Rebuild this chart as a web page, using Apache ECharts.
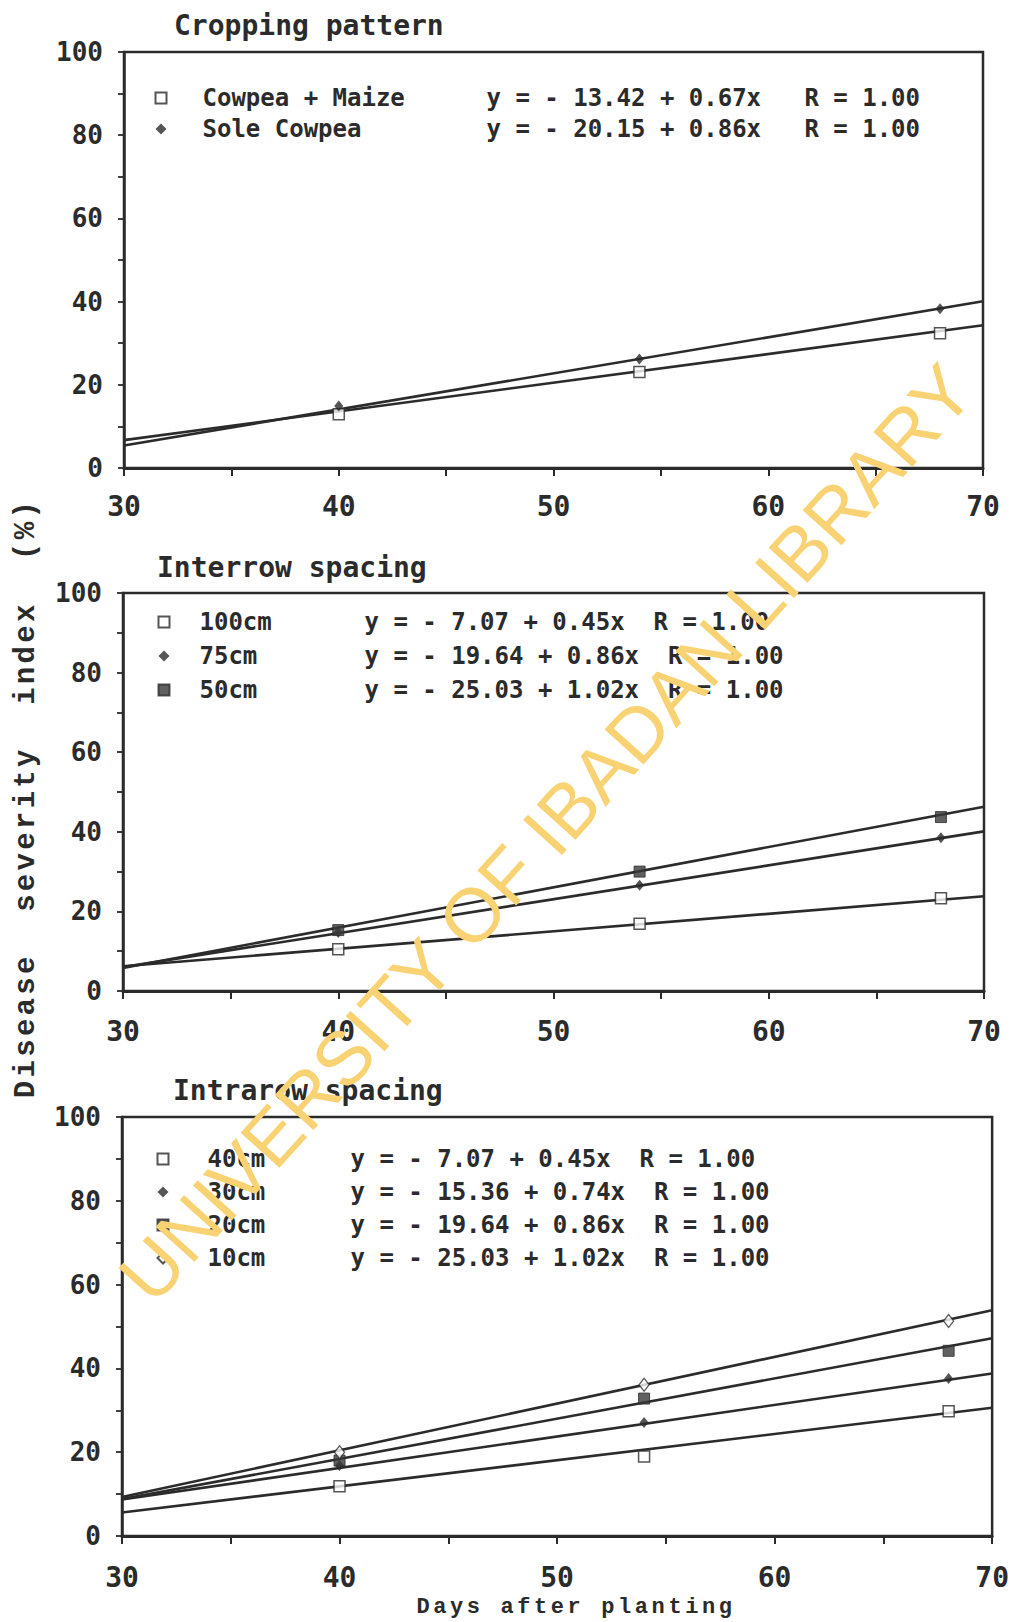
<!DOCTYPE html>
<html><head><meta charset="utf-8">
<script src="https://cdn.jsdelivr.net/npm/echarts@6/dist/echarts.min.js"></script>
<style>
html,body{margin:0;padding:0;background:#fff;}
#c{width:1012px;height:1622px;}
svg text[style*="Liberation Mono"]{letter-spacing:3.4px;}
</style></head><body><div id="c"></div>
<script>
// ---- data ----
const days = [40, 54, 68];
const fitX = [30, 70];
// Cropping pattern
const cowpeaMaize = [12.9, 23.1, 32.4];
const soleCowpea = [14.9, 26.2, 38.3];
const cowpeaMaizeFit = [6.7, 34.3];
const soleCowpeaFit = [5.4, 40.1];
// Interrow spacing
const inter100 = [10.5, 16.9, 23.3];
const inter75 = [14.7, 26.6, 38.5];
const inter50 = [15.3, 30.0, 43.7];
const inter100Fit = [6.2, 23.8];
const inter75Fit = [6.0, 40.1];
const inter50Fit = [5.8, 46.3];
// Intrarow spacing
const intra40 = [11.9, 19.0, 29.8];
const intra30 = [16.8, 27.1, 37.6];
const intra20 = [18.0, 32.8, 44.2];
const intra10 = [20.0, 36.1, 51.3];
const intra40Fit = [5.6, 30.6];
const intra30Fit = [8.7, 38.8];
const intra20Fit = [8.8, 47.2];
const intra10Fit = [9.3, 53.9];

const xTickLabels = [30, 40, 50, 60, 70];
const yTickLabels = [0, 20, 40, 60, 80, 100];
const panelTitles = ['Cropping pattern', 'Interrow spacing', 'Intrarow spacing'];
const panelA = ['Cowpea + Maize', 'Sole Cowpea'];
const panelB = ['100cm', '75cm', '50cm'];
const panelC = ['40cm', '30cm', '20cm', '10cm'];
const equations = {
  'Cowpea + Maize': 'y = - 13.42 + 0.67x   R = 1.00',
  'Sole Cowpea':    'y = - 20.15 + 0.86x   R = 1.00',
  '100cm': 'y = - 7.07 + 0.45x  R = 1.00',
  '75cm':  'y = - 19.64 + 0.86x  R = 1.00',
  '50cm':  'y = - 25.03 + 1.02x  R = 1.00',
  '40cm':  'y = - 7.07 + 0.45x  R = 1.00',
  '30cm':  'y = - 15.36 + 0.74x  R = 1.00',
  '20cm':  'y = - 19.64 + 0.86x  R = 1.00',
  '10cm':  'y = - 25.03 + 1.02x  R = 1.00'
};
const yAxisTitle = 'Disease  severity  index  (%)';
const xAxisTitle = 'Days after planting';
const watermark = 'UNIVERSITY OF IBADAN LIBRARY';

// ---- styles ----
const INK = '#2b2b2b';
const MONO = "'DejaVu Sans Mono', monospace";
const grids = [
  {left: 124, top: 52, width: 859, height: 416},
  {left: 123, top: 593, width: 861, height: 398},
  {left: 122, top: 1117, width: 871, height: 419}
];
const xMargins = [24, 26, 27];

const MARK = {
  openSq:  {symbol: 'rect', symbolSize: 11, itemStyle: {color: '#fff', borderColor: INK, borderWidth: 1.5}},
  diamond: {symbol: 'diamond', symbolSize: [9, 11], itemStyle: {color: INK}},
  fillSq:  {symbol: 'rect', symbolSize: 11, itemStyle: {color: '#3a3a3a', borderColor: INK, borderWidth: 1}},
  openDi:  {symbol: 'diamond', symbolSize: [10, 13], itemStyle: {color: '#fff', borderColor: INK, borderWidth: 1.3}}
};

const series = [];
function addGroup(name, vals, fit, mark, idx) {
  series.push(Object.assign({
    type: 'line', name: name + ' fit', xAxisIndex: idx, yAxisIndex: idx,
    data: fitX.map((x, i) => [x, fit[i]]), showSymbol: false, symbol: 'none',
    lineStyle: {color: INK, width: 2.6}, z: 2, silent: true
  }));
  series.push(Object.assign({
    type: 'scatter', name: name, xAxisIndex: idx, yAxisIndex: idx,
    data: days.map((d, i) => [d, vals[i]]), z: 4
  }, JSON.parse(JSON.stringify(mark))));
}
addGroup('Cowpea + Maize', cowpeaMaize, cowpeaMaizeFit, MARK.openSq, 0);
addGroup('Sole Cowpea', soleCowpea, soleCowpeaFit, MARK.diamond, 0);
addGroup('100cm', inter100, inter100Fit, MARK.openSq, 1);
addGroup('75cm', inter75, inter75Fit, MARK.diamond, 1);
addGroup('50cm', inter50, inter50Fit, MARK.fillSq, 1);
addGroup('40cm', intra40, intra40Fit, MARK.openSq, 2);
addGroup('30cm', intra30, intra30Fit, MARK.diamond, 2);
addGroup('20cm', intra20, intra20Fit, MARK.fillSq, 2);
addGroup('10cm', intra10, intra10Fit, MARK.openDi, 2);

const xAxes = grids.map((g, i) => ({
  type: 'value', gridIndex: i, min: 30, max: 70, interval: 5,
  axisLine: {lineStyle: {color: INK, width: 3}},
  axisTick: {show: true, length: 8, lineStyle: {color: INK, width: 2}},
  splitLine: {show: false},
  axisLabel: {
    margin: xMargins[i], color: INK, fontFamily: MONO, fontWeight: 'bold', fontSize: 28,
    formatter: v => xTickLabels.includes(v) ? String(v) : ''
  }
}));
const yAxes = grids.map((g, i) => ({
  type: 'value', gridIndex: i, min: 0, max: 100, interval: 10,
  axisLine: {show: true, lineStyle: {color: INK, width: 2.5}},
  axisTick: {show: true, length: 6, lineStyle: {color: INK, width: 1.8}},
  splitLine: {show: false},
  axisLabel: {
    margin: 21, color: INK, fontFamily: MONO, fontWeight: 'bold', fontSize: 26,
    formatter: v => yTickLabels.includes(v) ? String(v) : ''
  }
}));

function legendFor(names, left, top, gap, pad, nameW) {
  return {
    data: names, orient: 'vertical', left: left, top: top, padding: 0,
    itemWidth: 11, itemHeight: 11, itemGap: gap, selectedMode: false,
    formatter: n => '{p|}{n|' + n + '}{e|' + equations[n] + '}',
    textStyle: {
      color: INK, fontFamily: MONO, fontWeight: 'bold', fontSize: 24, lineHeight: 24,
      rich: {
        p: {width: pad, fontSize: 24, lineHeight: 24},
        n: {width: nameW, fontFamily: MONO, fontWeight: 'bold', fontSize: 24, lineHeight: 24, color: INK},
        e: {fontFamily: MONO, fontWeight: 'bold', fontSize: 24, lineHeight: 24, color: INK}
      }
    }
  };
}

const titlePos = [[174, 11], [157, 553], [173, 1076]];
const graphic = panelTitles.map((t, i) => ({
  type: 'text', left: titlePos[i][0], top: titlePos[i][1],
  style: {text: t, fill: INK, font: "bold 28px 'DejaVu Sans Mono'"}
}));
graphic.push({
  type: 'text', x: 26, y: 798, rotation: Math.PI / 2,
  style: {text: yAxisTitle, x: 0, y: 0, align: 'center', verticalAlign: 'middle',
          fill: INK, font: "bold 29px 'Liberation Mono'"}
});
graphic.push({
  type: 'text', x: 576, y: 1607,
  style: {text: xAxisTitle, x: 0, y: 0, align: 'center', verticalAlign: 'middle',
          fill: INK, font: "bold 22px 'Liberation Mono'"}
});
graphic.push({
  type: 'text', x: 546, y: 833, rotation: 47.9 * Math.PI / 180, z: 100, silent: true,
  style: {text: watermark, x: 0, y: 0, align: 'center', verticalAlign: 'middle',
          fill: '#f9d273', font: "76px 'Liberation Sans'"}
});

const chart = echarts.init(document.getElementById('c'), null, {renderer: 'svg'});
chart.setOption({
  animation: false,
  backgroundColor: '#ffffff',
  grid: grids.map(g => Object.assign({show: true, borderColor: INK, borderWidth: 2.5, backgroundColor: 'transparent'}, g)),
  xAxis: xAxes,
  yAxis: yAxes,
  legend: [
    legendFor(panelA, 154.5, 86, 7, 31, 284),
    legendFor(panelB, 157.5, 610, 10, 25, 165),
    legendFor(panelC, 156.5, 1147, 9, 34, 143)
  ],
  graphic: graphic,
  series: series
});

function applySpacing() {
  document.querySelectorAll('#c svg text').forEach(t => {
    const s = t.textContent || '';
    if (s.indexOf('Disease') === 0) t.style.letterSpacing = '3.3px';
    else if (s.indexOf('Days after') === 0) t.style.letterSpacing = '3.6px';
  });
}
chart.on('finished', applySpacing);
applySpacing();
setTimeout(applySpacing, 50);
</script></body></html>
